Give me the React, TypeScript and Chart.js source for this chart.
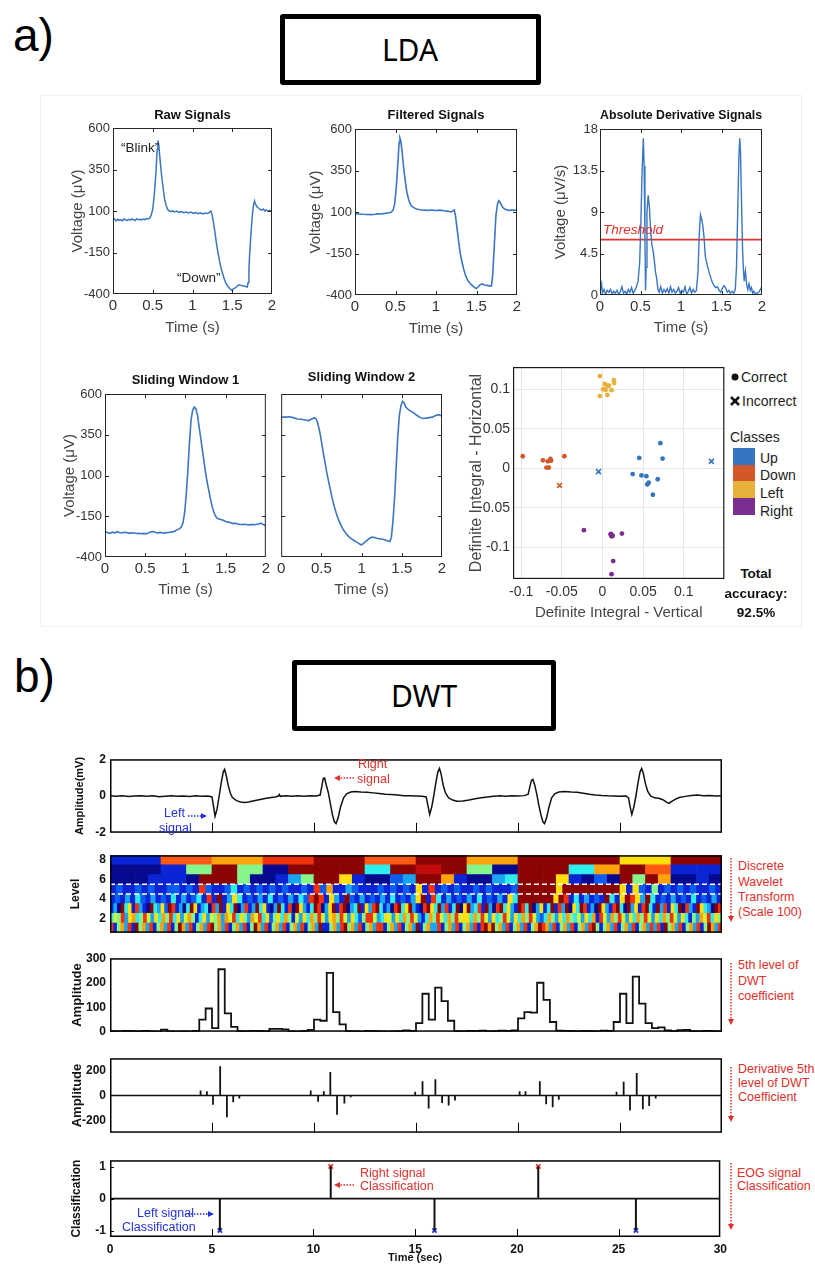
import React, { useEffect, useRef } from 'react';
import { Chart, registerables } from 'chart.js';

Chart.register(...registerables);

// ================= DATA : panel a (LDA) =================
const T_TICKS = [0, 0.5, 1, 1.5, 2];
const V_TICKS = [-400, -150, 100, 350, 600];
const D_TICKS = [0, 4.5, 9, 13.5, 18];
const THRESHOLD = 6;

const RAW: number[][] = [[0,45],[0.02,52],[0.04,40],[0.06,50],[0.08,44],[0.1,48],[0.12,41],[0.14,52],[0.16,46],[0.18,43],[0.2,50],[0.22,45],[0.24,52],[0.26,47],[0.28,44],[0.3,53],[0.32,48],[0.34,50],[0.36,46],[0.38,51],[0.4,48],[0.42,55],[0.44,52],[0.46,57],[0.48,75],[0.5,110],[0.52,200],[0.54,330],[0.555,470],[0.565,525],[0.575,500],[0.59,420],[0.61,320],[0.63,240],[0.65,170],[0.67,130],[0.69,108],[0.71,100],[0.73,96],[0.75,102],[0.77,94],[0.8,99],[0.83,92],[0.86,97],[0.89,90],[0.92,94],[0.95,88],[0.98,93],[1.01,86],[1.04,91],[1.07,84],[1.1,89],[1.13,82],[1.16,88],[1.19,85],[1.21,92],[1.23,100],[1.245,80],[1.26,40],[1.28,-20],[1.3,-90],[1.32,-150],[1.34,-200],[1.36,-245],[1.38,-280],[1.4,-310],[1.42,-335],[1.44,-350],[1.46,-362],[1.48,-372],[1.5,-380],[1.51,-370],[1.53,-365],[1.55,-358],[1.57,-350],[1.59,-345],[1.61,-348],[1.63,-350],[1.65,-352],[1.67,-355],[1.69,-358],[1.7,-330],[1.71,-250],[1.72,-150],[1.735,-40],[1.75,60],[1.765,130],[1.78,160],[1.79,145],[1.81,125],[1.83,118],[1.85,110],[1.87,105],[1.89,112],[1.91,100],[1.93,106],[1.95,98],[1.97,104],[2,100]];

const FILTERED: number[][] = [[0,90],[0.05,88],[0.1,86],[0.15,85],[0.2,84],[0.25,86],[0.28,90],[0.31,88],[0.35,90],[0.4,94],[0.44,97],[0.47,110],[0.49,150],[0.51,250],[0.53,400],[0.545,520],[0.555,545],[0.565,530],[0.58,470],[0.6,370],[0.62,290],[0.64,220],[0.66,180],[0.68,150],[0.7,135],[0.73,125],[0.76,118],[0.8,114],[0.85,111],[0.9,110],[0.95,112],[1,109],[1.05,111],[1.1,108],[1.15,104],[1.19,100],[1.21,108],[1.225,112],[1.24,80],[1.26,0],[1.28,-80],[1.3,-150],[1.32,-200],[1.34,-240],[1.36,-275],[1.38,-300],[1.4,-318],[1.43,-335],[1.46,-348],[1.48,-356],[1.5,-360],[1.52,-352],[1.54,-340],[1.56,-334],[1.58,-336],[1.6,-340],[1.63,-342],[1.66,-345],[1.685,-345],[1.7,-280],[1.72,-100],[1.74,80],[1.76,150],[1.775,168],[1.79,160],[1.81,140],[1.83,125],[1.86,115],[1.9,110],[1.95,112],[2,110]];

const ABS_DERIV: number[][] = [[0,0.3],[0.02,1.2],[0.03,0.2],[0.05,0.6],[0.07,0.1],[0.09,0.5],[0.11,0.3],[0.13,0.6],[0.15,0.1],[0.17,0.4],[0.19,0.2],[0.21,0.5],[0.23,0.1],[0.25,0.3],[0.27,0.9],[0.29,0.2],[0.31,0.4],[0.33,0.1],[0.35,0.6],[0.37,0.3],[0.39,0.8],[0.41,0.2],[0.43,0.5],[0.45,0.9],[0.47,1.5],[0.49,3.5],[0.505,8],[0.52,13.5],[0.535,17],[0.545,14],[0.555,6],[0.562,0.5],[0.57,3],[0.58,9],[0.595,10.8],[0.61,9.5],[0.625,7],[0.64,5.5],[0.655,4.8],[0.67,3.8],[0.685,2.5],[0.7,1.8],[0.715,0.6],[0.73,0.3],[0.75,0.9],[0.77,0.2],[0.79,0.6],[0.81,0.3],[0.83,0.7],[0.85,0.2],[0.87,0.9],[0.89,0.3],[0.91,0.6],[0.93,0.2],[0.95,0.4],[0.97,0.8],[0.99,0.2],[1.01,0.5],[1.03,0.3],[1.05,0.9],[1.07,0.1],[1.09,0.4],[1.11,0.8],[1.13,0.2],[1.15,0.6],[1.17,0.3],[1.19,0.5],[1.21,2.5],[1.225,6.5],[1.24,8.7],[1.255,8.2],[1.27,7.5],[1.285,6.2],[1.3,4.2],[1.315,3.6],[1.33,3],[1.35,2.4],[1.37,1.8],[1.39,1.3],[1.41,1],[1.43,0.8],[1.45,0.9],[1.47,0.5],[1.49,0.3],[1.51,0.7],[1.53,1],[1.55,0.8],[1.57,0.3],[1.59,0.5],[1.61,0.2],[1.63,0.4],[1.65,0.2],[1.67,0.6],[1.685,3],[1.7,9],[1.715,15],[1.725,17],[1.735,15.5],[1.745,11],[1.76,5],[1.77,2.8],[1.78,1.5],[1.795,2.6],[1.81,1.2],[1.825,0.6],[1.84,1.2],[1.855,0.5],[1.87,0.8],[1.885,0.2],[1.9,0.4],[1.92,0.1],[1.94,0.2],[1.96,0.3],[1.98,0.6],[2,0.9]];

const WIN1: number[][] = [[0,-243],[0.03,-250],[0.06,-255],[0.09,-248],[0.12,-252],[0.15,-245],[0.18,-250],[0.21,-253],[0.24,-248],[0.27,-250],[0.3,-255],[0.33,-251],[0.36,-253],[0.39,-256],[0.42,-254],[0.45,-257],[0.48,-255],[0.51,-258],[0.54,-252],[0.57,-246],[0.6,-244],[0.63,-250],[0.66,-252],[0.69,-249],[0.72,-254],[0.75,-252],[0.78,-250],[0.81,-248],[0.84,-246],[0.87,-240],[0.9,-232],[0.93,-226],[0.95,-215],[0.97,-190],[0.99,-130],[1.01,-20],[1.03,130],[1.05,300],[1.07,440],[1.09,500],[1.11,520],[1.13,510],[1.15,470],[1.17,400],[1.19,330],[1.21,260],[1.23,190],[1.25,120],[1.27,60],[1.29,10],[1.31,-40],[1.33,-85],[1.35,-120],[1.37,-145],[1.39,-160],[1.41,-166],[1.44,-170],[1.47,-175],[1.5,-182],[1.53,-186],[1.56,-188],[1.59,-195],[1.62,-193],[1.65,-197],[1.68,-200],[1.71,-201],[1.74,-199],[1.77,-202],[1.8,-203],[1.83,-200],[1.86,-202],[1.89,-199],[1.92,-196],[1.94,-192],[1.96,-198],[1.98,-204],[2,-208]];

const WIN2: number[][] = [[0,459],[0.05,458],[0.1,460],[0.15,455],[0.2,447],[0.25,445],[0.3,440],[0.34,437],[0.38,446],[0.41,453],[0.43,450],[0.45,430],[0.47,390],[0.49,340],[0.51,280],[0.53,220],[0.55,165],[0.57,110],[0.6,40],[0.63,-30],[0.66,-90],[0.69,-140],[0.72,-180],[0.75,-212],[0.78,-238],[0.81,-258],[0.84,-275],[0.87,-287],[0.9,-297],[0.93,-306],[0.96,-315],[0.99,-325],[1.01,-322],[1.04,-310],[1.07,-297],[1.1,-285],[1.13,-278],[1.16,-280],[1.2,-287],[1.24,-290],[1.28,-293],[1.32,-300],[1.35,-305],[1.37,-280],[1.39,-180],[1.41,-40],[1.43,150],[1.45,340],[1.47,470],[1.49,530],[1.51,555],[1.53,545],[1.55,520],[1.58,505],[1.61,495],[1.64,487],[1.67,475],[1.7,465],[1.73,455],[1.76,450],[1.8,452],[1.84,455],[1.88,458],[1.92,468],[1.96,473],[2,465]];

// LDA scatter (x: Definite Integral - Vertical, y: Definite Integral - Horizontal)
const SC_X_TICKS = [-0.1, -0.05, 0, 0.05, 0.1];
const SC_Y_TICKS = [-0.1, -0.05, 0, 0.05, 0.1];
const UP_OK: number[][] = [[0.0712,0.0317],[0.0452,0.013],[0.074,0.0122],[0.0372,-0.0074],[0.048,-0.0091],[0.054,-0.01],[0.0568,-0.0183],[0.0552,-0.0204],[0.068,-0.0139],[0.062,-0.0335]];
const UP_BAD: number[][] = [[-0.0048,-0.0043],[0.134,0.0087]];
const DOWN_OK: number[][] = [[-0.098,0.0152],[-0.0732,0.01],[-0.0672,0.0087],[-0.064,0.0117],[-0.0632,0.0096],[-0.0688,0.0009],[-0.066,0.0009],[-0.0468,0.0152]];
const DOWN_BAD: number[][] = [[-0.0528,-0.0217]];
const LEFT_OK: number[][] = [[-0.0032,0.1165],[0.0028,0.1065],[0.006,0.1043],[0.0008,0.1],[0.014,0.1113],[0.0144,0.1078],[0.008,0.1043],[0.0112,0.0987],[0.004,0.0991],[-0.0032,0.0913],[0.006,0.0926]];
const RIGHT_OK: number[][] = [[-0.0228,-0.0783],[0.01,-0.0835],[0.012,-0.0848],[0.0112,-0.0861],[0.024,-0.0826],[0.0132,-0.1174],[0.0112,-0.1339],[0.0105,-0.083],[0.0125,-0.0855]];
const CLASSES = ['Up', 'Down', 'Left', 'Right'];
const CLASS_COLORS = ['#3574c0', '#d2582a', '#e6b03a', '#7a2e8f'];

// ================= DATA : panel b (DWT) =================
const SEC_TICKS = [0, 5, 10, 15, 20, 25, 30];
const MV_TICKS = [-2, 0, 2];
const AMP_TICKS = [0, 100, 200, 300];
const DER_TICKS = [-200, 0, 200];
const CLS_TICKS = [-1, 0, 1];

const EOG: number[][] = [[0,0.02],[0.3,-0.02],[0.6,0.01],[0.9,-0.03],[1.2,0],[1.5,0.02],[1.8,-0.02],[2.1,0.01],[2.4,-0.04],[2.7,-0.01],[3,0.02],[3.3,-0.02],[3.6,0],[3.9,-0.03],[4.2,0.01],[4.5,-0.02],[4.8,0],[5,-0.05],[5.08,-0.6],[5.15,-1.1],[5.25,-0.7],[5.35,0],[5.45,0.7],[5.55,1.3],[5.62,1.45],[5.7,1.1],[5.8,0.55],[5.9,0.15],[6,-0.08],[6.2,-0.25],[6.4,-0.33],[6.6,-0.35],[6.8,-0.32],[7,-0.27],[7.3,-0.2],[7.6,-0.14],[7.9,-0.08],[8.1,-0.05],[8.25,0],[8.3,0.08],[8.35,-0.02],[8.6,0.01],[8.9,-0.02],[9.2,0.01],[9.5,-0.01],[9.8,0.02],[10.1,0],[10.3,0.05],[10.38,0.5],[10.45,0.95],[10.52,0.98],[10.6,0.6],[10.7,0.2],[10.8,-0.4],[10.9,-1],[11,-1.4],[11.08,-1.5],[11.18,-1.2],[11.3,-0.6],[11.45,-0.1],[11.6,0.12],[11.8,0.22],[12,0.25],[12.3,0.22],[12.6,0.2],[12.9,0.17],[13.2,0.14],[13.5,0.1],[13.8,0.08],[14.1,0.05],[14.4,0.02],[14.7,0.01],[15,0],[15.3,-0.01],[15.5,-0.05],[15.58,-0.5],[15.67,-1],[15.77,-0.6],[15.87,0],[15.97,0.7],[16.07,1.3],[16.15,1.5],[16.23,1.2],[16.33,0.6],[16.45,0.15],[16.6,-0.1],[16.8,-0.22],[17,-0.28],[17.3,-0.27],[17.6,-0.22],[17.9,-0.15],[18.2,-0.1],[18.5,-0.05],[18.8,-0.02],[19.1,0.01],[19.4,-0.01],[19.7,0.02],[20,0],[20.3,0.02],[20.5,0.1],[20.58,0.5],[20.66,0.85],[20.73,0.9],[20.82,0.6],[20.92,0.1],[21.02,-0.5],[21.12,-1],[21.22,-1.4],[21.3,-1.5],[21.4,-1.2],[21.52,-0.6],[21.65,-0.1],[21.8,0.12],[22,0.22],[22.3,0.25],[22.6,0.22],[22.9,0.2],[23.2,0.15],[23.5,0.1],[23.8,0.06],[24.1,0.03],[24.4,0.01],[24.7,0],[25,-0.01],[25.3,0],[25.42,-0.1],[25.5,-0.6],[25.58,-1],[25.68,-0.6],[25.78,0],[25.88,0.7],[25.98,1.3],[26.06,1.5],[26.14,1.25],[26.24,0.7],[26.36,0.25],[26.5,0],[26.7,-0.1],[26.9,-0.12],[27.1,-0.2],[27.3,-0.35],[27.4,-0.4],[27.5,-0.32],[27.7,-0.18],[27.9,-0.08],[28.2,-0.02],[28.5,0.03],[28.8,0.05],[29.1,0.02],[29.4,0.03],[29.7,0],[30,0.01]];

// DWT scalogram: one string per level (8 at top ... 1 at bottom), one colour code per cell
const LEVELS = ['8', '7', '6', '5', '4', '3', '2', '1'];
const LEVEL_LABELS = ['8', '6', '4', '2'];
const LV8 = '1c89aca8aa7a';
const LV7 = '0015a50aaa4aba50aa48ac11';
const LV6 = '0001110aaa500135aa710023aa810034aaa71020a5a80010';
const LV5 = '1211212112212192112412121212112192811321112121217191212112121112aaaaaa7aaaaaaaaa7172151212121121';
const LV4 = '121314213121413124191a137412131412131429a91731a21312131412137a194131213141213174aaaaaaa7a91413121a417a973a41213121412131';
const LV3 = '130a4719310a4372a91304a7134093a174a03913a47103a4190a7314a9037a19a034a1739a41309a47a3109a74a3914a07a3491a309a4731a94a03714a193a074a9130a7319a40a3719a41a39174a0931a7430a9';
const LV2 = '465937845963748594736851473658386947538694725748516374859637859637425996347637485963148596485967748596374596374859632485374854637481963859637485963748596374153869475';
const LV1 = '9158391a58391583915a83915839a58391583915a83915839158391583a115839a5839158399158391583a158339158391583919a8a583915839158a98391583915839a5158391583915839391a58391583915a839';
const JET: Record<string, string> = {
  '0': '#07098e', '1': '#0b25d6', '2': '#0b5df2', '3': '#1aa5f3', '4': '#30ecec', '5': '#86f58c',
  '6': '#cdf53a', '7': '#ffdf0c', '8': '#ffa20c', '9': '#f2320c', 'a': '#8a0404', 'b': '#c00c0c', 'c': '#ff5a12',
};

// 5th level DWT coefficient, one value per 0.3125 s block
const DWT5_STEP = 0.3125;
const DWT5 = [3,2,4,3,2,4,2,1,9,2,1,2,1,4,50,95,15,255,75,20,3,2,4,3,2,12,12,10,2,1,3,8,50,45,240,80,30,3,2,1,4,3,2,1,2,3,6,4,35,155,50,180,125,45,3,2,4,3,5,2,3,5,4,6,55,80,78,200,130,40,5,4,3,2,4,3,2,5,4,40,155,35,225,115,35,15,18,6,3,7,8,3,2,4,3,2];

// derivative of the 5th level coefficient: [time, value]
const DERIV5: number[][] = [[4.44,40],[4.75,35],[5.05,-75],[5.4,235],[5.73,-175],[6.04,-55],[6.34,-25],[9.84,40],[10.2,-50],[10.48,35],[10.8,190],[11.13,-155],[11.49,-65],[11.8,-15],[14.96,30],[15.32,115],[15.62,-105],[15.95,130],[16.28,-60],[16.6,-80],[16.91,-40],[20.08,35],[20.37,35],[21.07,115],[21.38,-70],[21.7,-95],[22,-35],[24.83,30],[25.18,110],[25.49,-120],[25.82,180],[26.12,-110],[26.43,-85],[26.75,-25]];

// EOG classification events: [time, class (+1 right, -1 left)]
const CLASS_EVENTS: number[][] = [[5.4,-1],[10.85,1],[15.95,-1],[21.05,1],[25.85,-1]];
const BASELINE: number[][] = [[0,0],[30,0]];

// ================= styling =================
const FA = "'Liberation Sans', Arial, sans-serif";
const FB = "'Liberation Sans', Arial, sans-serif";
const LINE_BLUE = '#3a76c2';
const RED = '#e0302a';
const NAVY = '#2432d8';

Chart.defaults.font.family = FA;

const fmt = (v: number) => String(Number(Number(v).toFixed(4)));
const pts = (a: number[][]) => a.map((p) => ({ x: p[0], y: p[1] }));
const stems = (a: number[][]) => a.flatMap((p) => [{ x: p[0], y: 0 }, { x: p[0], y: p[1] }, { x: p[0], y: null }]);

const framePlugin: any = {
  id: 'frame',
  defaults: { show: false },
  afterDraw(chart: any, _a: any, o: any) {
    if (!o || !o.show) return;
    const { ctx, chartArea: a, scales } = chart;
    ctx.save();
    if (o.dashY && scales.y) {
      ctx.strokeStyle = '#ffffff';
      ctx.lineWidth = 1.5;
      ctx.setLineDash([5, 3]);
      for (const v of o.dashY) {
        const p = scales.y.getPixelForValue(v);
        ctx.beginPath(); ctx.moveTo(a.left, p); ctx.lineTo(a.right, p); ctx.stroke();
      }
      ctx.setLineDash([]);
    }
    const lw = o.lineWidth || 1;
    ctx.strokeStyle = o.color || '#000';
    ctx.lineWidth = lw;
    const h = lw / 2;
    ctx.strokeRect(a.left + h, a.top + h, a.right - a.left - lw, a.bottom - a.top - lw);
    ctx.lineWidth = o.tickWidth || 1;
    const draw = (scale: any, sides: string, len: number, horiz: boolean) => {
      if (!scale || !sides) return;
      for (const t of scale.ticks) {
        const p = scale.getPixelForValue(t.value);
        if (horiz) {
          if (p < a.left + 2 || p > a.right - 2) continue;
          const x = Math.round(p) + 0.5;
          if (sides.includes('b')) { ctx.beginPath(); ctx.moveTo(x, a.bottom); ctx.lineTo(x, a.bottom - len); ctx.stroke(); }
          if (sides.includes('t')) { ctx.beginPath(); ctx.moveTo(x, a.top); ctx.lineTo(x, a.top + len); ctx.stroke(); }
        } else {
          if (p < a.top + 2 || p > a.bottom - 2) continue;
          const y = Math.round(p) + 0.5;
          if (sides.includes('l')) { ctx.beginPath(); ctx.moveTo(a.left, y); ctx.lineTo(a.left + len, y); ctx.stroke(); }
          if (sides.includes('r')) { ctx.beginPath(); ctx.moveTo(a.right, y); ctx.lineTo(a.right - len, y); ctx.stroke(); }
        }
      }
    };
    draw(scales.x, o.xs, o.xl || 4, true);
    draw(scales.y, o.ys, o.yl || 4, false);
    ctx.restore();
  },
};
Chart.register(framePlugin);

type Geo = { L: number; T: number; R: number; B: number; yW: number; xH: number; padT: number; padR: number };

function axis(o: any) {
  return {
    type: 'linear',
    min: o.min,
    max: o.max,
    offset: false,
    afterBuildTicks: (s: any) => { s.ticks = o.ticks.map((v: number) => ({ value: v })); },
    afterFit: (s: any) => { if (o.x) s.height = o.size; else s.width = o.size; },
    ticks: {
      display: !!o.font, font: o.font, color: o.color || '#333', padding: o.pad ?? 3,
      maxRotation: 0, minRotation: 0, autoSkip: false, callback: (v: any) => fmt(v),
    },
    grid: o.grid ? { display: true, drawTicks: false, color: o.grid, lineWidth: 1 } : { display: false, drawTicks: false },
    border: { display: false },
    title: o.title
      ? { display: true, text: o.title, color: o.tcolor || '#454545', font: o.tfont, padding: o.x ? { top: 0, bottom: o.tpad } : { top: o.tpad, bottom: 0 } }
      : { display: false },
  };
}

function base(g: Geo, title: any) {
  return {
    responsive: false,
    maintainAspectRatio: false,
    animation: false,
    events: [],
    layout: { padding: { left: 0, right: g.padR, bottom: 0, top: title ? 0 : g.padT } },
  };
}

function Plot({ g, cfg }: { g: Geo; cfg: () => any }) {
  const ref = useRef<HTMLCanvasElement>(null);
  const w = g.R - g.L + g.yW + g.padR;
  const h = g.B - g.T + g.padT + g.xH;
  useEffect(() => {
    const chart = new Chart(ref.current as HTMLCanvasElement, cfg());
    return () => chart.destroy();
  }, []);
  return (
    <canvas ref={ref} width={w} height={h}
      style={{ position: 'absolute', left: g.L - g.yW, top: g.T - g.padT, width: w, height: h }} />
  );
}

// ---------- panel a line plot ----------
const A_TICK_Y = { family: FA, size: 13 };
const A_TICK_X = { family: FA, size: 15 };
const A_AXT = { family: FA, size: 15, lineHeight: 1.2 };
const A_TITLE = { family: FA, size: 13, weight: 'bold', lineHeight: 1.2 };

function lineA(g: Geo, o: any) {
  const top = g.T - g.padT;
  const left = g.L - g.yW;
  const bottom = g.B + g.xH;
  const tLH = 13 * 1.2;
  const tpt = o.titleY - top - tLH / 2;
  const datasets = o.series.map((s: any) => ({
    data: pts(s.data), showLine: true, borderColor: s.color, borderWidth: s.width || 1.6,
    pointRadius: 0, tension: 0, fill: false,
  }));
  return {
    type: 'scatter',
    data: { datasets },
    options: {
      ...base(g, true),
      plugins: {
        legend: { display: false },
        tooltip: { enabled: false },
        title: { display: true, text: o.title, color: '#111', font: A_TITLE, fullSize: false, padding: { top: tpt, bottom: g.padT - tpt - tLH } },
        frame: { show: true, color: '#262626', lineWidth: 1, xs: 'bt', ys: 'lr', xl: 4, yl: 4 },
      },
      scales: {
        x: axis({ x: true, min: 0, max: 2, ticks: T_TICKS, size: g.xH, font: A_TICK_X, pad: 3,
          title: 'Time (s)', tfont: A_AXT, tpad: bottom - o.xTitleY - 9 }),
        y: axis({ min: o.ymin, max: o.ymax, ticks: o.yticks, size: g.yW, font: o.hideY ? undefined : A_TICK_Y, pad: o.ypad ?? 3,
          title: o.yTitle, tfont: A_AXT, tpad: o.yTitle ? o.yTitleX - left - 9 : 0 }),
      },
    },
  };
}

// ---------- panel b helpers ----------
const B_TICK = { family: FB, size: 12, weight: 'bold' };
const bAxT = (size: number) => ({ family: FB, size, weight: 'bold', lineHeight: 1.2 });

function bY(g: Geo, o: any) {
  return axis({ min: o.min, max: o.max, ticks: o.ticks, size: g.yW, font: B_TICK, color: '#111', pad: 4,
    title: o.title, tcolor: '#111', tfont: bAxT(o.tsize), tpad: o.titleX - (g.L - g.yW) - o.tsize * 0.6 });
}
function bX(g: Geo, show: boolean) {
  if (!show) return axis({ x: true, min: 0, max: 30, ticks: SEC_TICKS, size: g.xH });
  return axis({ x: true, min: 0, max: 30, ticks: SEC_TICKS, size: g.xH, font: B_TICK, color: '#111', pad: 5,
    title: 'Time (sec)', tcolor: '#111', tfont: bAxT(11), tpad: 1 });
}
const bPlugins = (extra: any) => ({ legend: { display: false }, tooltip: { enabled: false }, frame: { show: true, color: '#000', lineWidth: 1.5, ...extra } });

// ================= geometry =================
const G_RAW: Geo = { L: 113, T: 128, R: 272, B: 294, yW: 55, xH: 46, padT: 28, padR: 12 };
const G_FIL: Geo = { L: 355, T: 129, R: 517, B: 295, yW: 55, xH: 46, padT: 29, padR: 12 };
const G_ABS: Geo = { L: 600, T: 129, R: 762, B: 295, yW: 60, xH: 45, padT: 29, padR: 12 };
const G_W1: Geo = { L: 105, T: 394, R: 267, B: 557, yW: 53, xH: 47, padT: 29, padR: 6 };
const G_W2: Geo = { L: 279, T: 394, R: 442, B: 557, yW: 5, xH: 47, padT: 29, padR: 12 };
const G_SC: Geo = { L: 513, T: 367, R: 727, B: 579, yW: 51, xH: 46, padT: 12, padR: 3 };
const G_B1: Geo = { L: 110, T: 756, R: 722, B: 836, yW: 52, xH: 8, padT: 8, padR: 8 };
const G_B2: Geo = { L: 110, T: 852, R: 722, B: 935, yW: 52, xH: 9, padT: 8, padR: 8 };
const G_B3: Geo = { L: 110, T: 955, R: 722, B: 1035, yW: 52, xH: 8, padT: 8, padR: 8 };
const G_B4: Geo = { L: 110, T: 1055, R: 722, B: 1136, yW: 52, xH: 8, padT: 8, padR: 8 };
const G_B5: Geo = { L: 110, T: 1157, R: 722, B: 1237, yW: 52, xH: 29, padT: 8, padR: 10 };

// ================= chart configs =================
const cfgRaw = () => lineA(G_RAW, { title: 'Raw Signals', titleY: 115.5, xTitleY: 328, yTitle: 'Voltage (μV)', yTitleX: 78,
  ymin: -400, ymax: 600, yticks: V_TICKS, series: [{ data: RAW, color: LINE_BLUE, width: 1.5 }] });
const cfgFil = () => lineA(G_FIL, { title: 'Filtered Signals', titleY: 115.5, xTitleY: 329, yTitle: 'Voltage (μV)', yTitleX: 316,
  ymin: -400, ymax: 600, yticks: V_TICKS, series: [{ data: FILTERED, color: LINE_BLUE }] });
const cfgAbs = () => lineA(G_ABS, { title: 'Absolute Derivative Signals', titleY: 115.5, xTitleY: 328, yTitle: 'Voltage (μV/s)', yTitleX: 561,
  ymin: 0, ymax: 18, yticks: D_TICKS, ypad: 2,
  series: [{ data: ABS_DERIV, color: LINE_BLUE, width: 1.4 }, { data: [[0, THRESHOLD], [2, THRESHOLD]], color: '#e8302a', width: 1.8 }] });
const cfgW1 = () => lineA(G_W1, { title: 'Sliding Window 1', titleY: 380, xTitleY: 590, yTitle: 'Voltage (μV)', yTitleX: 70,
  ymin: -400, ymax: 600, yticks: V_TICKS, series: [{ data: WIN1, color: LINE_BLUE }] });
const cfgW2 = () => lineA(G_W2, { title: 'Sliding Window 2', titleY: 377.5, xTitleY: 590, hideY: true,
  ymin: -400, ymax: 600, yticks: V_TICKS, series: [{ data: WIN2, color: LINE_BLUE }] });

const cfgScatter = () => {
  const g = G_SC;
  const ok = [UP_OK, DOWN_OK, LEFT_OK, RIGHT_OK];
  const bad = [UP_BAD, DOWN_BAD, [], []];
  const datasets: any[] = [];
  CLASSES.forEach((c, i) => {
    datasets.push({ label: c, data: pts(ok[i]), pointRadius: 2.4, pointBackgroundColor: CLASS_COLORS[i], pointBorderWidth: 0, showLine: false });
    if (bad[i].length) datasets.push({ label: c + ' (incorrect)', data: pts(bad[i]), pointStyle: 'crossRot', pointRadius: 3.5, pointBorderColor: CLASS_COLORS[i], pointBorderWidth: 1.6, showLine: false });
  });
  const font = { family: FA, size: 14 };
  return {
    type: 'scatter',
    data: { datasets },
    options: {
      ...base(g, false),
      plugins: { legend: { display: false }, tooltip: { enabled: false }, frame: { show: true, color: '#1a1a1a', lineWidth: 1.2 } },
      scales: {
        x: axis({ x: true, min: -0.11, max: 0.15, ticks: SC_X_TICKS, size: g.xH, font, pad: 5, grid: '#e6e6e6',
          title: 'Definite Integral - Vertical', tfont: A_AXT, tpad: 625 - 613 - 9 }),
        y: axis({ min: -0.14, max: 0.128, ticks: SC_Y_TICKS, size: g.yW, font, pad: 3, grid: '#e6e6e6',
          title: 'Definite Integral - Horizontal', tfont: { family: FA, size: 16, lineHeight: 1.2 }, tpad: 476.5 - 462 - 9.6 }),
      },
    },
  };
};

const cfgB1 = () => ({
  type: 'scatter',
  data: { datasets: [{ data: pts(EOG), showLine: true, borderColor: '#111', borderWidth: 1.5, pointRadius: 0, tension: 0 }] },
  options: {
    ...base(G_B1, false),
    plugins: bPlugins({ xs: 'b', xl: 10 }),
    scales: { x: bX(G_B1, false), y: bY(G_B1, { min: -2, max: 2, ticks: MV_TICKS, title: 'Amplitude(mV)', tsize: 11, titleX: 80 }) },
  },
});

const cfgB2 = () => {
  const rows = [LV8, LV7, LV6, LV5, LV4, LV3, LV2, LV1];
  const data: any[] = [];
  const colors: string[] = [];
  rows.forEach((row, r) => {
    const n = row.length;
    for (let i = 0; i < n; i++) {
      data.push({ y: LEVELS[r], x: [(i * 30) / n, ((i + 1) * 30) / n] });
      colors.push(JET[row[i]]);
    }
  });
  const g = G_B2;
  return {
    type: 'bar',
    data: { labels: LEVELS, datasets: [{ data, backgroundColor: colors, borderWidth: 0, barPercentage: 1, categoryPercentage: 1 }] },
    options: {
      ...base(g, false),
      indexAxis: 'y',
      plugins: bPlugins({ dashY: [2.5, 3.5] }),
      scales: {
        x: axis({ x: true, min: 0, max: 30, ticks: SEC_TICKS, size: g.xH }),
        y: {
          type: 'category', offset: true,
          afterFit: (s: any) => { s.width = g.yW; },
          ticks: { font: B_TICK, color: '#111', padding: 4, autoSkip: false,
            callback: (_v: any, i: number) => (LEVEL_LABELS.includes(LEVELS[i]) ? LEVELS[i] : '') },
          grid: { display: false, drawTicks: false }, border: { display: false },
          title: { display: true, text: 'Level', color: '#111', font: bAxT(12), padding: { top: 76 - 58 - 7.2, bottom: 0 } },
        },
      },
    },
  };
};

const cfgB3 = () => {
  const d = DWT5.map((v, i) => ({ x: i * DWT5_STEP, y: v }));
  d.push({ x: 30, y: DWT5[DWT5.length - 1] });
  return {
    type: 'scatter',
    data: { datasets: [{ data: d, showLine: true, stepped: 'before', borderColor: '#111', borderWidth: 1.8, pointRadius: 0 }] },
    options: {
      ...base(G_B3, false),
      plugins: bPlugins({}),
      scales: { x: bX(G_B3, false), y: bY(G_B3, { min: 0, max: 300, ticks: AMP_TICKS, title: 'Amplitude', tsize: 13, titleX: 77 }) },
    },
  };
};

const cfgB4 = () => ({
  type: 'scatter',
  data: { datasets: [
    { data: pts(BASELINE), showLine: true, borderColor: '#111', borderWidth: 1.6, pointRadius: 0 },
    { data: stems(DERIV5), showLine: true, spanGaps: false, borderColor: '#111', borderWidth: 1.8, pointRadius: 0 },
  ] },
  options: {
    ...base(G_B4, false),
    plugins: bPlugins({ xs: 'b', xl: 10 }),
    scales: { x: bX(G_B4, false), y: bY(G_B4, { min: -300, max: 300, ticks: DER_TICKS, title: 'Amplitude', tsize: 13, titleX: 77 }) },
  },
});

const cfgB5 = () => {
  const right = CLASS_EVENTS.filter((e) => e[1] > 0);
  const left = CLASS_EVENTS.filter((e) => e[1] < 0);
  return {
    type: 'scatter',
    data: { datasets: [
      { data: pts(BASELINE), showLine: true, borderColor: '#111', borderWidth: 1.6, pointRadius: 0 },
      { data: stems(CLASS_EVENTS), showLine: true, spanGaps: false, borderColor: '#111', borderWidth: 2, pointRadius: 0 },
      { data: pts(right), showLine: false, pointStyle: 'crossRot', pointRadius: 3, pointBorderColor: RED, pointBorderWidth: 1.8 },
      { data: pts(left), showLine: false, pointStyle: 'crossRot', pointRadius: 3, pointBorderColor: NAVY, pointBorderWidth: 1.8 },
    ] },
    options: {
      ...base(G_B5, false),
      plugins: bPlugins({ xs: 'b', xl: 8, ys: 'l', yl: 4 }),
      scales: { x: bX(G_B5, true), y: bY(G_B5, { min: -1.2, max: 1.2, ticks: CLS_TICKS, title: 'Classification', tsize: 12, titleX: 77 }) },
    },
  };
};

// ================= HTML text helpers =================
function Txt({ x, y, s, size = 12, color = '#000', bold = false, italic = false, align = 'left', family = FA }: any) {
  const tx = align === 'center' ? '-50%' : align === 'right' ? '-100%' : '0';
  return (
    <div style={{
      position: 'absolute', left: x, top: y - size * 0.6, lineHeight: `${size * 1.2}px`, fontSize: size,
      fontFamily: family, color, fontWeight: bold ? 'bold' : 'normal', fontStyle: italic ? 'italic' : 'normal',
      whiteSpace: 'nowrap', transform: `translateX(${tx})`,
    }}>{s}</div>
  );
}

function Arrow({ x1, y1, x2, y2, c }: any) {
  const ang = Math.atan2(y2 - y1, x2 - x1);
  const hl = 6, hw = 3;
  const bx = x2 - hl * Math.cos(ang), by = y2 - hl * Math.sin(ang);
  const px = -Math.sin(ang) * hw, py = Math.cos(ang) * hw;
  return (
    <g>
      <line x1={x1} y1={y1} x2={bx} y2={by} stroke={c} strokeWidth={1.5} strokeDasharray="1.5 1.5" />
      <polygon points={`${x2},${y2} ${bx + px},${by + py} ${bx - px},${by - py}`} fill={c} />
    </g>
  );
}

function Box({ x, y, w, h, label, cx, cy }: any) {
  return (
    <>
      <div style={{ position: 'absolute', left: x, top: y, width: w, height: h, border: '5px solid #000', borderRadius: 3, boxSizing: 'border-box' }} />
      <Txt x={cx} y={cy} s={label} size={30} align="center" family="'Noto Sans', 'Open Sans', sans-serif" />
    </>
  );
}

export default function App() {
  const redTxt = (x: number, y: number, s: string) => <Txt x={x} y={y} s={s} size={12.5} color={RED} />;
  return (
    <div style={{ position: 'absolute', left: 0, top: 0, width: 815, height: 1266, background: '#fff', overflow: 'hidden', fontFamily: FA }}>
      {/* panel a */}
      <div style={{ position: 'absolute', left: 40, top: 95, width: 762, height: 532, border: '1px solid #f0f0f0', boxSizing: 'border-box' }} />
      <Txt x={13} y={36} s="a)" size={46} family={FB} />
      <Box x={280} y={14} w={261} h={71} label="LDA" cx={410} cy={50} />

      <Plot g={G_RAW} cfg={cfgRaw} />
      <Plot g={G_FIL} cfg={cfgFil} />
      <Plot g={G_ABS} cfg={cfgAbs} />
      <Plot g={G_W1} cfg={cfgW1} />
      <Plot g={G_W2} cfg={cfgW2} />
      <Plot g={G_SC} cfg={cfgScatter} />

      <Txt x={121} y={148} s="“Blink”" size={13.5} color="#222" />
      <Txt x={177} y={278} s="“Down”" size={13.5} color="#222" />
      <Txt x={603} y={230} s="Threshold" size={13.5} color="#e8302a" italic />

      {/* scatter legend */}
      <Txt x={741} y={377} s="Correct" size={14} color="#222" />
      <Txt x={742} y={401} s="Incorrect" size={14} color="#222" />
      <Txt x={730} y={437} s="Classes" size={14} color="#222" />
      {CLASSES.map((c, i) => (
        <React.Fragment key={c}>
          <div style={{ position: 'absolute', left: 733, top: 448 + i * 16.7, width: 22, height: 16.7, background: CLASS_COLORS[i] }} />
          <Txt x={760} y={458 + i * 17.8} s={c} size={14} color="#222" />
        </React.Fragment>
      ))}
      <Txt x={756} y={574} s="Total" size={13.5} bold align="center" color="#111" />
      <Txt x={756} y={594} s="accuracy:" size={13.5} bold align="center" color="#111" />
      <Txt x={756} y={613} s="92.5%" size={13.5} bold align="center" color="#111" />

      {/* panel b */}
      <Txt x={14} y={677} s="b)" size={46} family={FB} />
      <Box x={292} y={660} w={264} h={71} label="DWT" cx={424} cy={696} />

      <Plot g={G_B1} cfg={cfgB1} />
      <Plot g={G_B2} cfg={cfgB2} />
      <Plot g={G_B3} cfg={cfgB3} />
      <Plot g={G_B4} cfg={cfgB4} />
      <Plot g={G_B5} cfg={cfgB5} />

      {redTxt(358, 764, 'Right')}
      {redTxt(357, 779, 'signal')}
      <Txt x={164} y={813} s="Left" size={12.5} color={NAVY} />
      <Txt x={159} y={828} s="signal" size={12.5} color={NAVY} />

      {redTxt(738, 866, 'Discrete')}
      {redTxt(738, 882, 'Wavelet')}
      {redTxt(738, 897, 'Transform')}
      {redTxt(738, 912, '(Scale 100)')}
      {redTxt(738, 965, '5th level of')}
      {redTxt(738, 981, 'DWT')}
      {redTxt(738, 996, 'coefficient')}
      {redTxt(738, 1069, 'Derivative 5th')}
      {redTxt(738, 1083, 'level of DWT')}
      {redTxt(738, 1097, 'Coefficient')}
      {redTxt(737, 1173, 'EOG signal')}
      {redTxt(737, 1186, 'Classification')}

      {redTxt(360, 1173, 'Right signal')}
      {redTxt(360, 1186, 'Classification')}
      <Txt x={137} y={1213} s="Left signal" size={12.5} color={NAVY} />
      <Txt x={122} y={1227} s="Classification" size={12.5} color={NAVY} />

      <svg width={815} height={1266} style={{ position: 'absolute', left: 0, top: 0, pointerEvents: 'none' }}>
        <circle cx={735} cy={377} r={3.5} fill="#111" />
        <line x1={731} y1={397} x2={739} y2={405} stroke="#111" strokeWidth={2.5} />
        <line x1={739} y1={397} x2={731} y2={405} stroke="#111" strokeWidth={2.5} />
        <Arrow x1={354} y1={778} x2={334} y2={778} c={RED} />
        <Arrow x1={188} y1={816} x2={207} y2={816} c={NAVY} />
        <Arrow x1={731} y1={858} x2={731} y2={922} c={RED} />
        <Arrow x1={731} y1={963} x2={731} y2={1025} c={RED} />
        <Arrow x1={731} y1={1067} x2={731} y2={1122} c={RED} />
        <Arrow x1={731} y1={1163} x2={731} y2={1230} c={RED} />
        <Arrow x1={354} y1={1185} x2={334} y2={1185} c={RED} />
        <Arrow x1={185} y1={1214} x2={214} y2={1214} c={NAVY} />
      </svg>
    </div>
  );
}
